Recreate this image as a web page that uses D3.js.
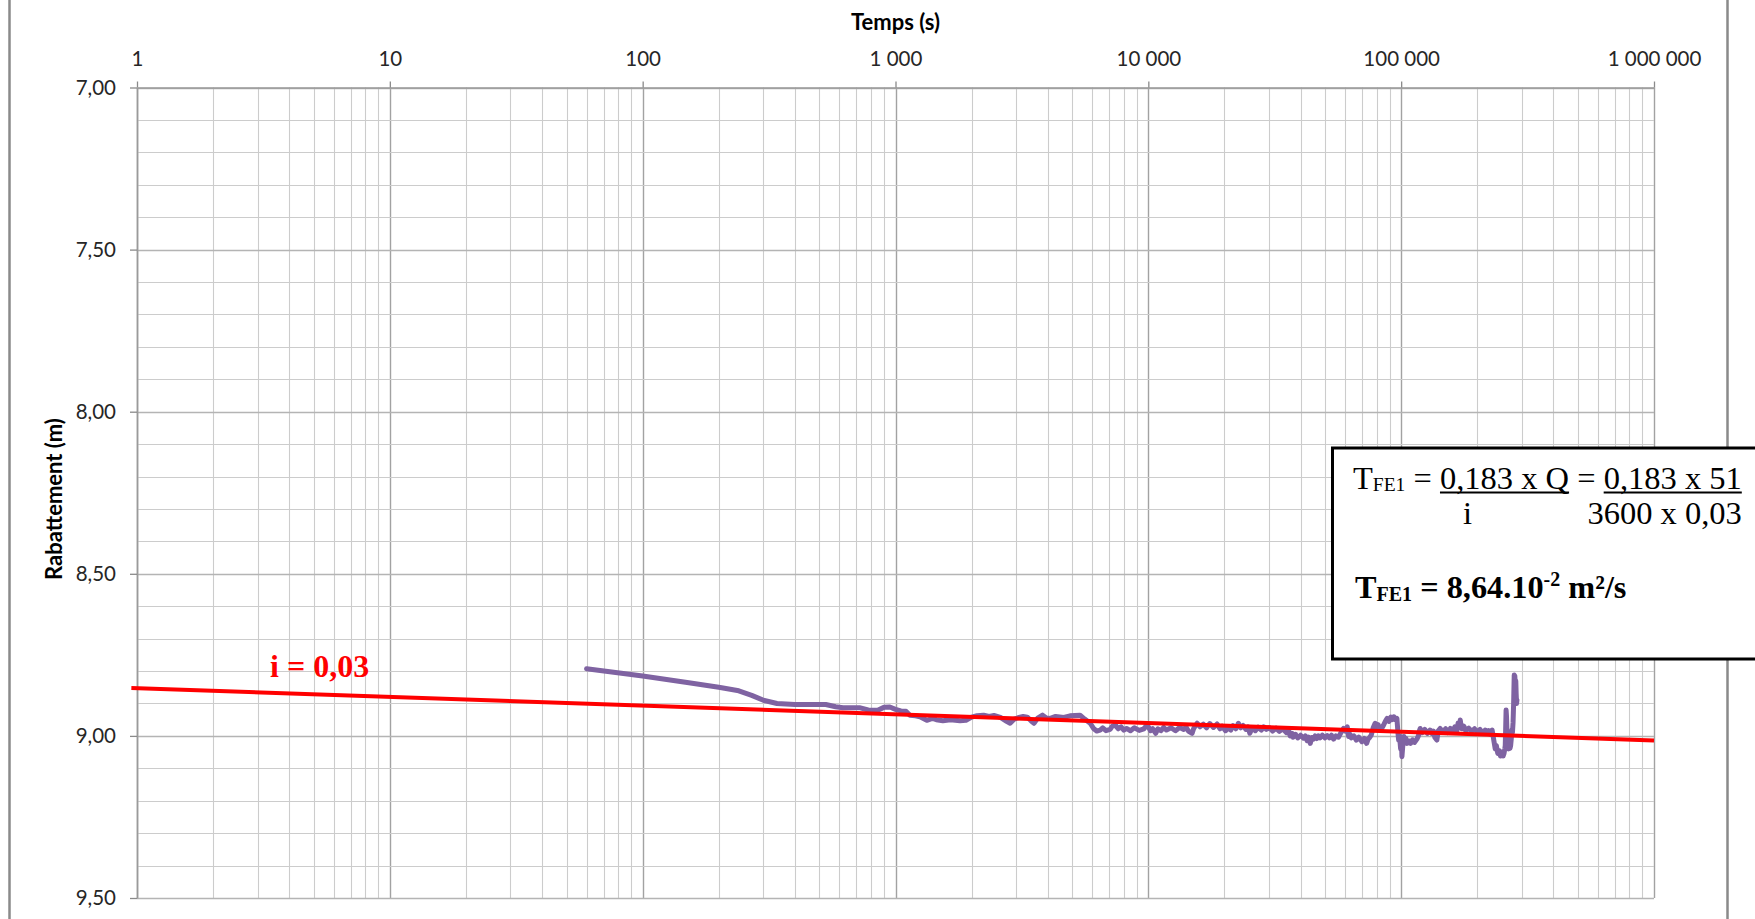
<!DOCTYPE html>
<html><head><meta charset="utf-8">
<script src="https://cdn.jsdelivr.net/npm/d3@7"></script>
<style>
html,body{margin:0;padding:0;background:#fff;}
svg{display:block;}
</style></head><body>
<svg id="c" width="1755" height="919"></svg>
<script>
// ---------- data ----------
const xTickValues = [1, 10, 100, 1000, 10000, 100000, 1000000];
const xTickLabels = ["1", "10", "100", "1 000", "10 000", "100 000", "1 000 000"];
const yTickValues = [7.0, 7.5, 8.0, 8.5, 9.0, 9.5];
const yTickLabels = ["7,00", "7,50", "8,00", "8,50", "9,00", "9,50"];

// time since pumping start (s)
const times = [
60,100,150,200,240,270,300,340,400,530,
580,620,720,780,850,900,950,1000,1050,1100,
1140,1200,1250,1330,1400,1450,1540,1650,1800,1900,
2000,2100,2230,2350,2450,2600,2750,2840,2950,3050,
3200,3320,3450,3530,3650,3815,3950,4090,4300,4630,
4900,5370,5600,5890,6070,6250,6445,6600,6800,7060,
7200,7400,7600,7800,8000,8200,8500,8800,9200,9600,
9800,10000,10200,10400,10700,10900,11200,11500,11800,12300,
12800,13300,13800,14100,14400,14900,15100,15300,15600,16000,
16500,17000,17500,18100,18700,19200,19600,20200,20700,21200,
21600,22200,22700,23200,23700,24300,24800,25200,25800,26500,
27200,28000,28600,29300,30100,31000,32000,33000,34000,35200,
35800,36400,37000,37400,38200,39000,40000,41100,41800,42500,
43100,43700,44300,45000,45700,46400,47100,47800,48800,50000,
51000,52000,53000,54000,55200,56500,57800,59200,60200,61200,
62000,62800,63500,65000,66500,68000,70000,71500,73000,74000,
75000,76200,77500,78900,80000,81000,82500,83800,85000,86000,
87000,88000,89500,91000,92300,93600,95000,96200,97000,97700,
98500,99500,100200,100700,101500,102500,103500,104500,105500,107000,
109000,111000,113000,115400,117000,118000,118900,121000,124000,127000,
130000,132000,134000,136000,138400,139500,140000,142600,146000,150000,
153000,156500,160000,163000,166000,168000,170000,171300,172500,174000,
177000,180000,185000,190000,195000,199400,205000,210000,215000,219000,
222000,225000,227000,229000,231000,233000,235500,238000,241000,244000,
247000,250000,253000,255000,257000,258000,259000,260000,261000,262000,
263500,265000,266500,268000,269500,271000,272500,274000,275500,277000,
278500,280000,281500,283000,284000,285000,286000,287000];

// drawdown (m)
const drawdown = [
8.793,8.815,8.835,8.850,8.861,8.875,8.890,8.900,8.903,8.903,
8.910,8.913,8.913,8.920,8.921,8.912,8.911,8.918,8.923,8.924,
8.936,8.938,8.941,8.952,8.946,8.950,8.953,8.950,8.953,8.952,
8.942,8.938,8.936,8.940,8.937,8.943,8.955,8.961,8.948,8.944,
8.940,8.942,8.955,8.961,8.945,8.936,8.945,8.946,8.940,8.943,
8.938,8.936,8.948,8.961,8.977,8.985,8.982,8.975,8.984,8.980,
8.970,8.966,8.978,8.972,8.982,8.977,8.984,8.975,8.983,8.978,
8.970,8.972,8.984,8.978,8.992,8.978,8.984,8.974,8.982,8.975,
8.984,8.974,8.980,8.973,8.985,8.992,8.978,8.970,8.961,8.972,
8.964,8.975,8.962,8.974,8.963,8.978,8.970,8.984,8.975,8.982,
8.968,8.978,8.961,8.975,8.968,8.980,8.972,8.992,8.975,8.984,
8.973,8.982,8.972,8.980,8.975,8.985,8.976,8.986,8.978,8.990,
8.982,9.000,8.992,9.004,8.995,9.006,8.998,9.007,9.000,9.015,
9.004,9.023,9.005,9.010,9.000,9.008,9.000,9.006,8.998,9.006,
8.999,9.006,8.998,9.010,9.000,9.004,8.990,8.977,8.985,8.972,
9.002,8.995,9.006,9.000,9.013,9.004,9.018,9.008,9.023,9.010,
9.005,8.997,8.975,8.961,8.972,8.965,8.980,8.977,8.968,8.960,
8.952,8.946,8.955,8.942,8.950,8.941,8.950,8.946,8.985,9.013,
9.000,9.040,9.010,9.064,9.030,9.002,9.020,9.008,9.023,9.015,
9.023,9.012,9.020,9.010,9.000,8.985,8.977,8.990,8.980,8.992,
8.982,8.992,8.985,9.005,9.013,8.995,8.985,8.977,8.988,8.978,
8.990,8.977,8.988,8.972,8.985,8.960,8.975,8.951,8.968,8.978,
8.970,8.984,8.976,8.986,8.978,8.988,8.980,8.992,8.982,8.992,
8.984,8.995,8.985,8.982,9.000,9.018,9.040,9.030,9.054,9.045,
9.062,9.050,9.062,9.055,9.040,9.030,8.980,8.920,8.940,8.980,
9.030,9.023,9.040,9.030,9.038,9.030,9.010,8.982,8.990,8.960,
8.900,8.812,8.815,8.850,8.830,8.870,8.900,8.889];

// slope line (i = 0,03) drawn over the graph
const slopeTimes = [0.95, 1000000];
const slopeDrawdown = [8.852, 9.014];
const slopeLabel = "i = 0,03";

// ---------- layout ----------
const svg = d3.select("#c");
const W = 1755, H = 919;
const P = {l: 137, r: 1654, t: 87.5, b: 898};
const x = d3.scaleLog().domain([1, 1e6]).range([P.l, P.r]);
const y = d3.scaleLinear().domain([7, 9.5]).range([P.t, P.b]);
const sansFont = "Lato, 'Open Sans', sans-serif";
const serifFont = "'Liberation Serif', 'Times New Roman', serif";

svg.append("rect").attr("width", W).attr("height", H).attr("fill", "#fff");

// outer chart-area borders (left / right)
svg.append("line").attr("x1", 9.5).attr("x2", 9.5).attr("y1", 0).attr("y2", H)
  .attr("stroke", "#8a8a8a").attr("stroke-width", 2.5);
svg.append("line").attr("x1", 1727.5).attr("x2", 1727.5).attr("y1", 0).attr("y2", H)
  .attr("stroke", "#8a8a8a").attr("stroke-width", 2.5);

// ---------- gridlines ----------
const grid = svg.append("g");
const isDecade = v => Math.abs(Math.log10(v) - Math.round(Math.log10(v))) < 1e-9;
const vTicks = x.ticks();
grid.selectAll("line.v").data(vTicks).join("line")
  .attr("x1", d => Math.round(x(d)) + 0.5).attr("x2", d => Math.round(x(d)) + 0.5)
  .attr("y1", P.t).attr("y2", P.b)
  .attr("stroke", d => isDecade(d) ? "#a2a2a2" : "#cccccc")
  .attr("stroke-width", d => isDecade(d) ? 1.4 : 1.1);
const hTicks = y.ticks(25);
const isHalf = v => Math.abs(v * 2 - Math.round(v * 2)) < 1e-9;
grid.selectAll("line.h").data(hTicks).join("line")
  .attr("x1", P.l).attr("x2", P.r)
  .attr("y1", d => Math.round(y(d)) + 0.5).attr("y2", d => Math.round(y(d)) + 0.5)
  .attr("stroke", d => isHalf(d) ? "#b4b4b4" : "#cccccc")
  .attr("stroke-width", d => isHalf(d) ? 1.3 : 1.1);

// ---------- axes ----------
const xAxis = d3.axisTop(x).tickValues(xTickValues)
  .tickFormat((d, i) => xTickLabels[i]).tickSize(6).tickSizeOuter(0).tickPadding(16);
const gx = svg.append("g").attr("transform", `translate(0,${P.t})`).call(xAxis);
gx.select(".domain").attr("stroke", "#9a9a9a").attr("stroke-width", 1.4);
gx.selectAll(".tick line").attr("stroke", "#8a8a8a").attr("stroke-width", 1.3);
gx.selectAll(".tick text").attr("font-family", sansFont).attr("font-size", 20.5).attr("fill", "#262626");

const yAxis = d3.axisLeft(y).tickValues(yTickValues)
  .tickFormat((d, i) => yTickLabels[i]).tickSize(7).tickSizeOuter(0).tickPadding(14);
const gy = svg.append("g").attr("transform", `translate(${P.l},0)`).call(yAxis);
gy.select(".domain").attr("stroke", "#9a9a9a").attr("stroke-width", 1.6);
gy.selectAll(".tick line").attr("stroke", "#8a8a8a").attr("stroke-width", 1.3);
gy.selectAll(".tick text").attr("font-family", sansFont).attr("font-size", 20.5).attr("fill", "#262626");

// axis titles
svg.append("text").attr("x", (P.l + P.r) / 2).attr("y", 30)
  .attr("text-anchor", "middle").attr("font-family", sansFont)
  .attr("font-weight", "bold").attr("font-size", 22).attr("fill", "#000")
  .text("Temps (s)");
svg.append("text").attr("transform", `translate(54,499) rotate(-90)`)
  .attr("text-anchor", "middle").attr("dy", "0.35em").attr("font-family", sansFont)
  .attr("font-weight", "bold").attr("font-size", 22).attr("fill", "#000")
  .text("Rabattement (m)");

// ---------- series ----------
const series = times.map((t, i) => [t, drawdown[i]]);
const line = d3.line().x(d => x(d[0])).y(d => y(d[1]));
svg.append("path").datum(series).attr("d", line)
  .attr("fill", "none").attr("stroke", "#7f63a2").attr("stroke-width", 5)
  .attr("stroke-linejoin", "round").attr("stroke-linecap", "round");

// slope line
const slope = slopeTimes.map((t, i) => [t, slopeDrawdown[i]]);
svg.append("path").datum(slope).attr("d", line)
  .attr("fill", "none").attr("stroke", "#ff0000").attr("stroke-width", 4);

svg.append("text").attr("x", 270).attr("y", 677)
  .attr("font-family", serifFont).attr("font-weight", "bold")
  .attr("font-size", 32).attr("fill", "#ff0000").text(slopeLabel);

// ---------- formula box ----------
svg.append("rect").attr("x", 1332.5).attr("y", 448).attr("width", 450).attr("height", 211)
  .attr("fill", "#fff").attr("stroke", "#000").attr("stroke-width", 3);

const box = svg.append("g");
function seg(xp, yp, txt, size, bold, underline, shift) {
  const t = box.append("text").attr("x", xp).attr("y", yp + (shift || 0))
    .attr("font-family", serifFont).attr("font-size", size)
    .attr("font-weight", bold ? "bold" : "normal").attr("fill", "#000")
    .attr("xml:space", "preserve").style("white-space", "pre").text(txt);
  const w = t.node().getComputedTextLength();
  if (underline) {
    box.append("line").attr("x1", xp).attr("x2", xp + w)
      .attr("y1", yp + 3.5).attr("y2", yp + 3.5).attr("stroke", "#000").attr("stroke-width", 2);
  }
  return xp + w;
}
const F = 32.5, FS = 19.5;
// line 1
let cx = 1353;
cx = seg(cx, 489, "T", F, false);
cx = seg(cx, 489, "FE1", FS, false, false, 1.5);
cx = seg(cx, 489, " = ", F, false);
cx = seg(cx, 489, "0,183 x Q", F, false, true);
cx = seg(cx, 489, " = ", F, false);
cx = seg(cx, 489, "0,183 x 51", F, false, true);
const u2end = cx;
// line 2
seg(1463, 524, "i", F, false);
box.append("text").attr("x", u2end).attr("y", 524).attr("text-anchor", "end")
  .attr("font-family", serifFont).attr("font-size", F).attr("fill", "#000")
  .text("3600 x 0,03");
// line 3
cx = 1355;
cx = seg(cx, 598, "T", 32.3, true);
cx = seg(cx, 598, "FE1", 20, true, false, 2.5);
cx = seg(cx, 598, " = 8,64.10", 32.3, true);
cx = seg(cx, 598, "-2", 20, true, false, -12);
cx = seg(cx, 598, " m²/s", 32.3, true);
</script>
</body></html>
